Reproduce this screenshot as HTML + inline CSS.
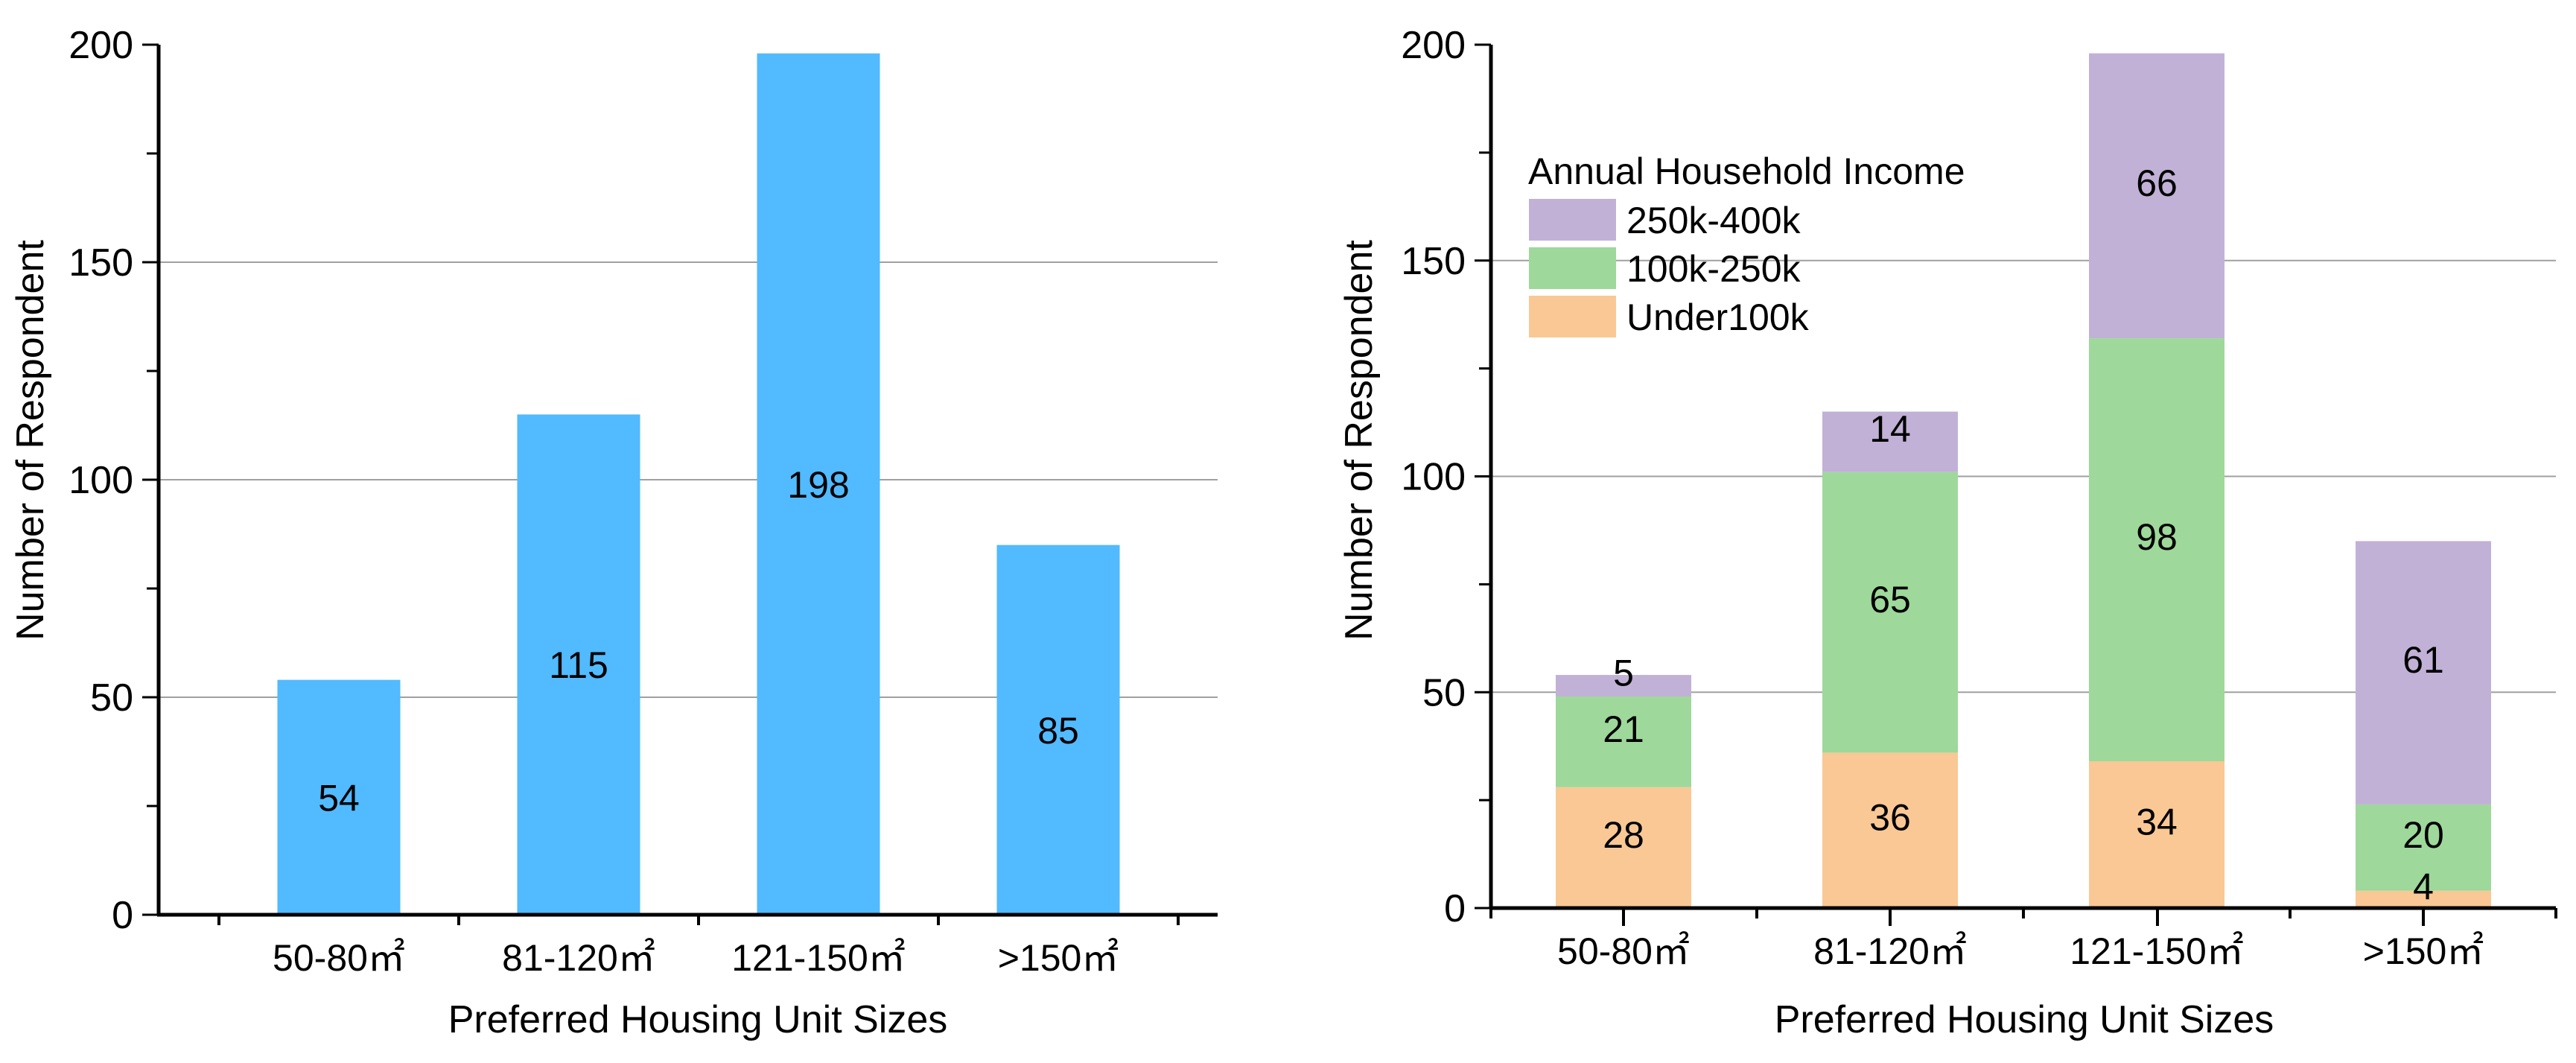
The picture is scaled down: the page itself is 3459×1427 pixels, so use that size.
<!DOCTYPE html>
<html><head><meta charset="utf-8"><style>
html,body{margin:0;padding:0;background:#fff}
svg text{font-family:"Liberation Sans",sans-serif;fill:#000}
</style></head><body>
<svg id="chart" width="3459" height="1422" viewBox="0 0 3459 1422" xmlns="http://www.w3.org/2000/svg">
<g id="left"></g>
<g id="right"></g>
</svg>
<script>
const categories = ["50-80㎡","81-120㎡","121-150㎡",">150㎡"];
const totals = [54,115,198,85];
const under100k = [28,36,34,4];
const mid100to250k = [21,65,98,20];
const high250to400k = [5,14,66,61];
const yTicks = [0,50,100,150,200];
const seriesNames = ["250k-400k","100k-250k","Under100k"];

const NS="http://www.w3.org/2000/svg";
function mk(parent,tag,attrs,text){const e=document.createElementNS(NS,tag);for(const k in attrs)e.setAttribute(k,attrs[k]);if(text!==undefined)e.textContent=text;parent.appendChild(e);return e;}

function drawAxes(g,o){
  const y=v=>o.y0-(v/200)*(o.y0-o.y200);
  [50,100,150].forEach(v=>{const l=mk(g,'line',{x1:o.ax,x2:o.xEnd,y1:y(v),y2:y(v),stroke:'#a0a0a0','stroke-width':2});
    
    });
  return y;
}
function finishAxes(g,o,y){
  const ya=mk(g,'line',{x1:o.ax,x2:o.ax,y1:o.y200,y2:o.y0+o.yExt,stroke:'#000','stroke-width':5});
  
  
  for(let v=0;v<=200;v+=25){const major=v%50===0;
    mk(g,'line',{x1:o.ax-(major?22:16),x2:o.ax,y1:y(v),y2:y(v),stroke:'#000','stroke-width':3});}
  yTicks.forEach(v=>{const t=mk(g,'text',{x:o.ax-34,y:y(v)+18,'text-anchor':'end','font-size':52},String(v));
    
    });
  const xa=mk(g,'line',{x1:o.ax-2,x2:o.xEnd,y1:o.y0,y2:o.y0,stroke:'#000','stroke-width':5});
  
  
  o.ticks.forEach(t=>mk(g,'line',{x1:t[0],x2:t[0],y1:o.y0,y2:o.y0+t[1],stroke:'#000','stroke-width':4}));
  categories.forEach((c,i)=>{const t=mk(g,'text',{x:o.cx(i),y:o.y0+75,'text-anchor':'middle','font-size':50},c);
    
    });
  const xt=mk(g,'text',{x:o.xtX,y:1386,'text-anchor':'middle','font-size':52},'Preferred Housing Unit Sizes');
  
  
  const yt=mk(g,'text',{x:0,y:0,'text-anchor':'middle','font-size':52,transform:`translate(${o.ytX},591) rotate(-90)`},'Number of Respondent');
  
  
}

(function(){
  const g=document.getElementById('left');
  const o={ax:213,xEnd:1635,y0:1228,y200:60,yExt:0,cx:i=>455+i*322,xtX:937,ytX:58};
  o.ticks=[294,616,938,1260,1582].map(x=>[x,14]);
  const y=drawAxes(g,o);
  const bw=165;
  totals.forEach((v,i)=>{
    const r=mk(g,'rect',{x:o.cx(i)-bw/2,y:y(v),width:bw,height:o.y0-y(v),fill:'#52BAFF'});
    
    
    const t=mk(g,'text',{x:o.cx(i),y:y(v/2)+18,'text-anchor':'middle','font-size':50},String(v));
    
    
  });
  finishAxes(g,o,y);
})();

(function(){
  const g=document.getElementById('right');
  const o={ax:2002,xEnd:3432,y0:1219,y200:60,yExt:0,cx:i=>2180+i*358,xtX:2718,ytX:1842};
  o.ticks=[[2002,14],[2180,24],[2359,14],[2538,24],[2717,14],[2897,24],[3075,14],[3254,24],[3432,14]];
  const y=drawAxes(g,o);
  const bw=182;
  const series=[[under100k,'#F9C895','under100k'],[mid100to250k,'#9ED89A','100k-250k'],[high250to400k,'#C1B1D6','250k-400k']];
  const rectLayer=mk(g,'g',{});
  const labelLayer=mk(g,'g',{});
  categories.forEach((c,i)=>{
    let base=0;
    series.forEach(s=>{const v=s[0][i];
      const r=mk(rectLayer,'rect',{x:o.cx(i)-bw/2,y:y(base+v),width:bw,height:y(base)-y(base+v),fill:s[1]});
      
      
      const t=mk(labelLayer,'text',{x:o.cx(i),y:y(base+v/2),'text-anchor':'middle','font-size':50},String(v));
      
      
      base+=v;});
  });
  finishAxes(g,o,y);
  g.appendChild(labelLayer);
  const lg=mk(g,'g',{});
  
  
  mk(lg,'text',{x:2052,y:247,'font-size':50},'Annual Household Income');
  const cols=['#C1B1D6','#9ED89A','#F9C895'];
  seriesNames.forEach((n,k)=>{
    const yy=267+k*65;
    const sw=mk(lg,'rect',{x:2053,y:yy,width:117,height:56,fill:cols[k]});
    
    
    const t=mk(lg,'text',{x:2184,y:yy+46,'font-size':50},n);
    
    
  });
})();
</script>
</body></html>
